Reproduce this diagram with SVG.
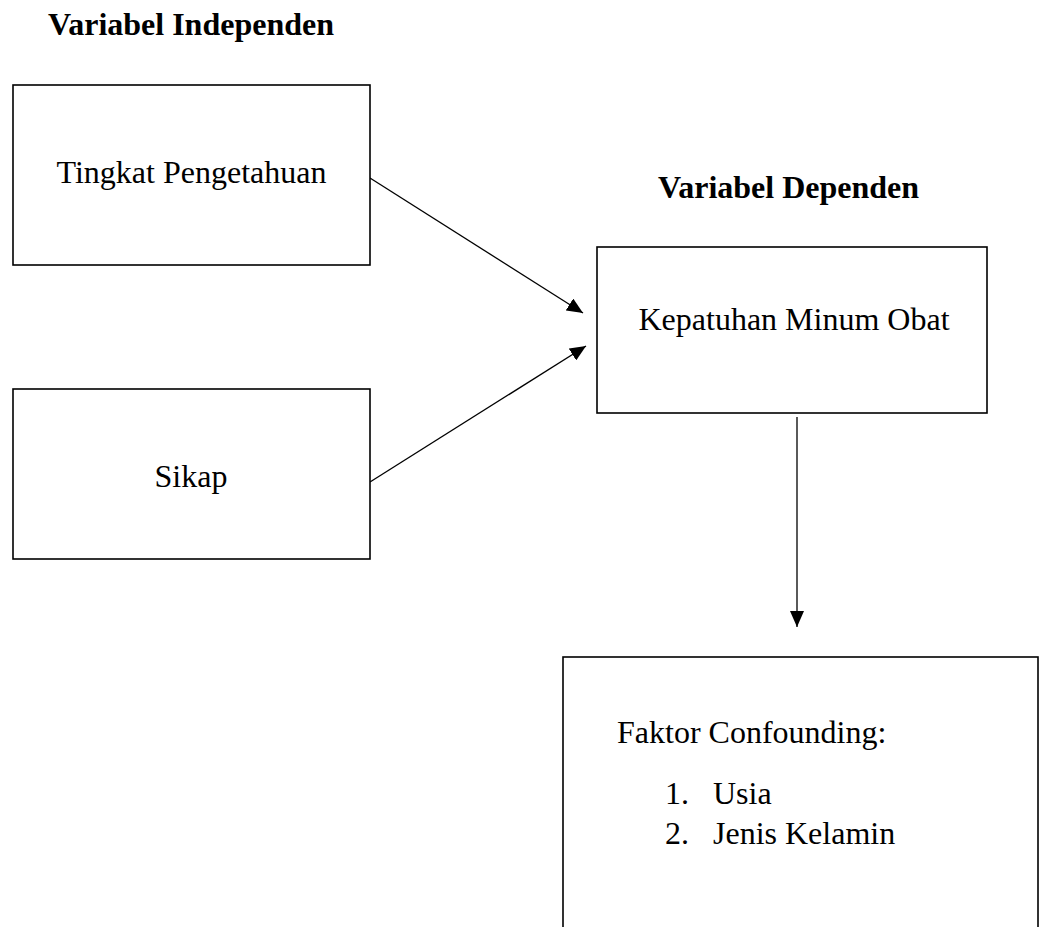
<svg xmlns="http://www.w3.org/2000/svg" width="1039" height="927" viewBox="0 0 1039 927">
<style>
.box{fill:#fff;stroke:#000;stroke-width:1.6}
.t{font-family:"Liberation Serif","Times New Roman",serif;font-size:32px;fill:#000}
.b{font-weight:bold}
.c{text-anchor:middle}
.edge{stroke:#000;stroke-width:1.3;fill:none}
</style>
<defs>
<marker id="ah" markerUnits="userSpaceOnUse" markerWidth="16" markerHeight="14" viewBox="0 0 16 14" refX="16" refY="7" orient="auto">
<path d="M0,0 L16,7 L0,14 Z" fill="#000"/>
</marker>
</defs>
<rect width="1039" height="927" fill="#fff"/>
<text class="t b" x="48" y="35">Variabel Independen</text>
<text class="t b" x="658" y="198">Variabel Dependen</text>
<g id="connectors">
<line class="edge" x1="370" y1="178" x2="583" y2="313" marker-end="url(#ah)"/>
<line class="edge" x1="370" y1="482" x2="586" y2="346" marker-end="url(#ah)"/>
<line class="edge" x1="797" y1="417" x2="797" y2="627" marker-end="url(#ah)"/>
</g>
<g id="node-pengetahuan">
<rect class="box" x="13" y="85" width="357" height="180"/>
<text class="t c" x="191.5" y="183">Tingkat Pengetahuan</text>
</g>
<g id="node-sikap">
<rect class="box" x="13" y="389" width="357" height="170"/>
<text class="t c" x="191" y="487">Sikap</text>
</g>
<g id="node-kepatuhan">
<rect class="box" x="597" y="247" width="390" height="166"/>
<text class="t c" x="794" y="330">Kepatuhan Minum Obat</text>
</g>
<g id="node-confounding">
<rect class="box" x="563" y="657" width="475" height="290"/>
<text class="t" x="617" y="743">Faktor Confounding:</text>
<text class="t" x="665" y="804">1.</text>
<text class="t" x="713" y="804">Usia</text>
<text class="t" x="665" y="844">2.</text>
<text class="t" x="713" y="844">Jenis Kelamin</text>
</g>
</svg>
